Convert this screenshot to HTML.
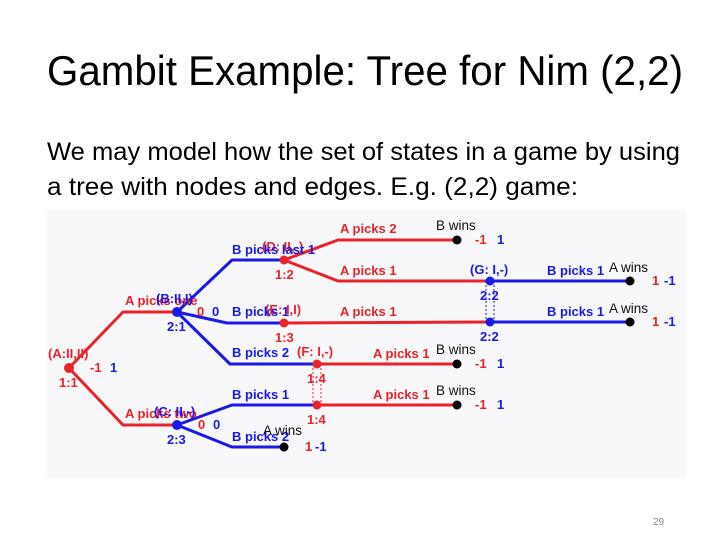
<!DOCTYPE html>
<html><head><meta charset="utf-8"><style>
html,body{margin:0;padding:0;background:#fff;}
svg{display:block}
</style></head><body>
<svg width="728" height="546" viewBox="0 0 728 546" xmlns="http://www.w3.org/2000/svg" font-family="Liberation Sans, Arial, sans-serif">
<rect width="728" height="546" fill="#fff"/>
<text x="47" y="85" font-size="42" textLength="636" lengthAdjust="spacingAndGlyphs" fill="#000">Gambit Example: Tree for Nim (2,2)</text>
<text x="47" y="160" font-size="25" textLength="633" lengthAdjust="spacingAndGlyphs" fill="#000">We may model how the set of states in a game by using</text>
<text x="47" y="195" font-size="25" textLength="531" lengthAdjust="spacingAndGlyphs" fill="#000">a tree with nodes and edges.  E.g. (2,2) game:</text>
<rect x="47" y="210" width="639" height="268" fill="#f8f7fa"/>
<g fill="none" stroke-width="3" stroke-linejoin="round">
<polyline stroke="#e8232a" points="69,368 123,312 177,312"/>
<polyline stroke="#e8232a" points="69,368 123,425 177,425"/>
<polyline stroke="#1a1ae6" points="177,312 232,260 284,260"/>
<polyline stroke="#1a1ae6" points="177,312 227,323 284,323"/>
<polyline stroke="#1a1ae6" points="177,312 230,364 317,364"/>
<polyline stroke="#1a1ae6" points="177,425 232,405 317,405"/>
<polyline stroke="#1a1ae6" points="177,425 232,447 284,447"/>
<polyline stroke="#e8232a" points="284,260 338,240 457,240"/>
<polyline stroke="#e8232a" points="284,260 338,281 490,281"/>
<polyline stroke="#e8232a" points="284,323 490,322"/>
<polyline stroke="#e8232a" points="317,364 457,364"/>
<polyline stroke="#e8232a" points="317,405 457,405"/>
<polyline stroke="#1a1ae6" points="490,281 630,281"/>
<polyline stroke="#1a1ae6" points="490,322 630,322"/>
</g>
<g fill="none" stroke-width="1" stroke-dasharray="2,2">
<rect x="313" y="364" width="8" height="41" stroke="#e8232a"/>
<rect x="486" y="281" width="8" height="41" stroke="#1a1ae6"/>
</g>
<g>
<circle cx="69" cy="368" r="5" fill="#e8232a"/>
<circle cx="177" cy="312" r="5" fill="#1a1ae6"/>
<circle cx="177" cy="425" r="5" fill="#1a1ae6"/>
<circle cx="284" cy="260" r="4.5" fill="#e8232a"/>
<circle cx="284" cy="323" r="4.5" fill="#e8232a"/>
<circle cx="317" cy="364" r="4.5" fill="#e8232a"/>
<circle cx="317" cy="405" r="4.5" fill="#e8232a"/>
<circle cx="490" cy="281" r="4.5" fill="#1a1ae6"/>
<circle cx="490" cy="322" r="4.5" fill="#1a1ae6"/>
<circle cx="284" cy="447" r="4.5" fill="#000"/>
<circle cx="457" cy="240" r="4.5" fill="#000"/>
<circle cx="457" cy="364" r="4.5" fill="#000"/>
<circle cx="457" cy="405" r="4.5" fill="#000"/>
<circle cx="630" cy="281" r="4.5" fill="#000"/>
<circle cx="630" cy="322" r="4.5" fill="#000"/>
</g>
<g font-size="13" font-weight="bold">
<g fill="#e8232a">
<text x="48" y="358">(A:II,II)</text>
<text x="59" y="387">1:1</text>
<text x="90" y="372">-1</text>
<text x="125" y="305">A picks one</text>
<text x="125" y="418">A picks two</text>
<text x="262" y="251">(D: II,-)</text>
<text x="275" y="279">1:2</text>
<text x="265" y="314">(E: I,I)</text>
<text x="275" y="342">1:3</text>
<text x="297" y="356">(F: I,-)</text>
<text x="307" y="383">1:4</text>
<text x="307" y="424">1:4</text>
<text x="197" y="316">0</text>
<text x="198" y="429">0</text>
<text x="340" y="233">A picks 2</text>
<text x="340" y="275">A picks 1</text>
<text x="340" y="316">A picks 1</text>
<text x="373" y="358">A picks 1</text>
<text x="373" y="399">A picks 1</text>
<text x="475" y="244">-1</text>
<text x="475" y="368">-1</text>
<text x="475" y="409">-1</text>
<text x="652" y="285">1</text>
<text x="652" y="326">1</text>
<text x="305" y="451">1</text>
</g>
<g fill="#1a1ae6">
<text x="110" y="372">1</text>
<text x="156" y="303">(B:II,I)</text>
<text x="167" y="331">2:1</text>
<text x="154" y="416">(C: II,-)</text>
<text x="167" y="444">2:3</text>
<text x="212" y="316">0</text>
<text x="213" y="429">0</text>
<text x="232" y="254">B picks last 1</text>
<text x="232" y="316">B picks 1</text>
<text x="232" y="357">B picks 2</text>
<text x="232" y="399">B picks 1</text>
<text x="232" y="441">B picks 2</text>
<text x="470" y="274">(G: I,-)</text>
<text x="480" y="300">2:2</text>
<text x="480" y="341">2:2</text>
<text x="547" y="275">B picks 1</text>
<text x="547" y="316">B picks 1</text>
<text x="497" y="244">1</text>
<text x="497" y="368">1</text>
<text x="497" y="409">1</text>
<text x="664" y="285">-1</text>
<text x="664" y="326">-1</text>
<text x="315" y="451">-1</text>
</g>
<g fill="#111" font-weight="normal" font-size="13.5">
<text x="436" y="230">B wins</text>
<text x="609" y="272">A wins</text>
<text x="609" y="313">A wins</text>
<text x="436" y="354">B wins</text>
<text x="436" y="395">B wins</text>
<text x="263" y="435">A wins</text>
</g>
</g>
<text x="653" y="525" font-size="10" fill="#8a8a8a">29</text>
</svg>
</body></html>
